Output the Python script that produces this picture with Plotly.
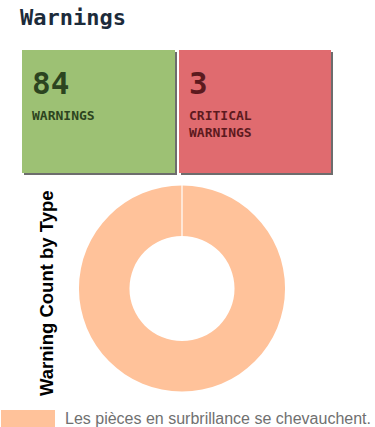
import plotly.graph_objects as go

W, H = 375, 427

# ---- data ----
page_title = "Warnings"
card_values = [84, 3]
card_labels = ["WARNINGS", "CRITICAL<br>WARNINGS"]
card_colors = ["#9dc174", "#e06b6f"]
card_text_colors = ["#2c4420", "#5c1a1e"]
chart_title = "Warning Count by Type"
slice_labels = ["Les pièces en surbrillance se chevauchent."]
slice_values = [84]
slice_colors = ["#ffc29a"]


def px(x):
    return x / W


def py(y):
    return 1 - y / H


fig = go.Figure()

# donut
dom_x = [px(79), px(285)]
dom_y = [py(393), py(184)]
fig.add_trace(go.Pie(
    labels=slice_labels, values=slice_values, hole=0.51,
    marker=dict(colors=slice_colors, line=dict(color="white", width=0)),
    textinfo="none", sort=False, direction="clockwise", rotation=0,
    domain=dict(x=dom_x, y=dom_y), showlegend=False, hoverinfo="label+value",
))

shapes = []
annotations = []

# cards
card_boxes = [(22, 50, 175, 173), (179, 50, 331, 173)]
for (x0, y0, x1, y1), val, lab, col, tcol in zip(card_boxes, card_values, card_labels,
                                                  card_colors, card_text_colors):
    shapes.append(dict(type="rect", xref="paper", yref="paper",
                       x0=px(x0 + 2), x1=px(x1 + 2), y0=py(y1 + 2), y1=py(y0 + 2),
                       fillcolor="rgba(60,60,60,0.75)", line=dict(width=0), layer="below"))
    shapes.append(dict(type="rect", xref="paper", yref="paper",
                       x0=px(x0), x1=px(x1), y0=py(y1), y1=py(y0),
                       fillcolor=col, line=dict(width=0), layer="below"))
    annotations.append(dict(text=f"<b>{val}</b>", xref="paper", yref="paper",
                            x=px(x0 + 8), y=py(y0 + 33), xanchor="left", yanchor="middle",
                            showarrow=False,
                            font=dict(family="DejaVu Sans Mono", size=31, color=tcol)))
    annotations.append(dict(text=f"<b>{lab}</b>", xref="paper", yref="paper",
                            x=px(x0 + 8), y=py(y0 + 56), xanchor="left", yanchor="top",
                            showarrow=False, align="left",
                            font=dict(family="DejaVu Sans Mono", size=13, color=tcol)))

# title
annotations.append(dict(text=f"<b>{page_title}</b>", xref="paper", yref="paper",
                        x=px(18), y=py(17), xanchor="left", yanchor="middle", showarrow=False,
                        font=dict(family="DejaVu Sans Mono", size=22, color="#1c2b3a")))

# vertical chart title
annotations.append(dict(text=f"<b>{chart_title}</b>", xref="paper", yref="paper",
                        x=px(46), y=py(293), xanchor="center", yanchor="middle",
                        textangle=-90, showarrow=False,
                        font=dict(family="Liberation Sans", size=18.5, color="#000000")))

# white seam at top of single-slice donut
cx = (dom_x[0] + dom_x[1]) / 2
shapes.append(dict(type="line", xref="paper", yref="paper",
                   x0=cx, x1=cx, y0=py(236), y1=dom_y[1],
                   line=dict(color="white", width=1.2)))

# legend
for i, (lab, col) in enumerate(zip(slice_labels, slice_colors)):
    shapes.append(dict(type="rect", xref="paper", yref="paper",
                       x0=px(1), x1=px(55), y0=py(427), y1=py(410),
                       fillcolor=col, line=dict(width=0)))
    annotations.append(dict(text=lab, xref="paper", yref="paper",
                            x=px(63), y=py(418), xanchor="left", yanchor="middle",
                            showarrow=False,
                            font=dict(family="Liberation Sans", size=16, color="#707070")))

fig.update_layout(
    width=W, height=H, margin=dict(l=0, r=0, t=0, b=0),
    paper_bgcolor="white", plot_bgcolor="white",
    shapes=shapes, annotations=annotations, showlegend=False,
)

fig.write_html("out.html", config={"displayModeBar": False})
